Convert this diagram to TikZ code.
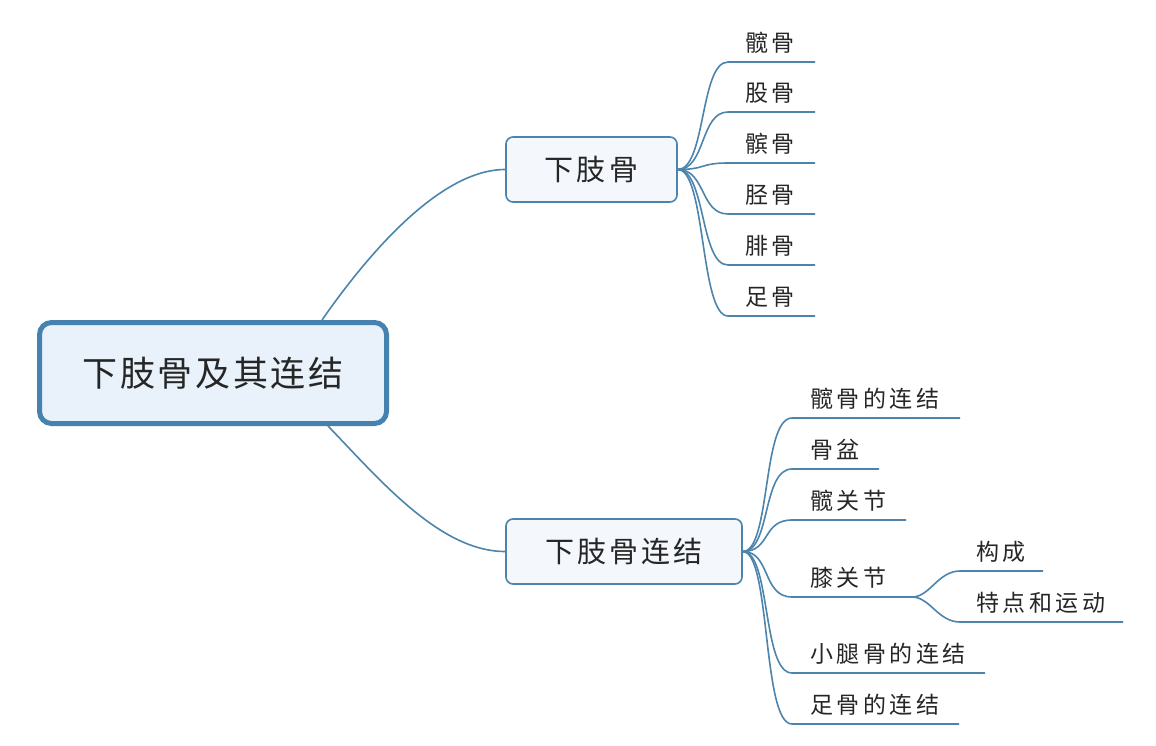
\documentclass[tikz,border=0pt]{standalone}
\usepackage{fontspec}
\usepackage{tikz}
\usetikzlibrary{positioning}

\newfontfamily\rootfont[LetterSpace=7.5]{Noto Sans CJK SC}
\newfontfamily\branchfont[LetterSpace=11]{Noto Sans CJK SC}
\newfontfamily\leaffont[LetterSpace=15]{Noto Sans CJK SC}

\definecolor{rootblue}{RGB}{70,130,176}
\definecolor{lineblue}{RGB}{76,132,172}
\definecolor{rootfill}{RGB}{233,242,251}
\definecolor{branchfill}{RGB}{244,248,252}
\definecolor{textgray}{RGB}{38,38,38}

\begin{document}
\begin{tikzpicture}[x=1pt, y=-1pt,
  root node/.style={draw=rootblue, line width=5pt, fill=rootfill, rounded corners=12pt,
    minimum width=347pt, minimum height=101pt, inner sep=0pt, text=textgray,
    font=\rootfont\fontsize{35}{40}\selectfont},
  branch node/.style={draw=lineblue, line width=1.6pt, fill=branchfill, rounded corners=7pt,
    minimum height=65pt, inner sep=0pt, text=textgray,
    font=\branchfont\fontsize{29}{34}\selectfont},
  leaf node/.style={anchor=west, inner sep=0pt, text=textgray,
    font=\leaffont\fontsize{23}{28}\selectfont},
  link/.style={draw=lineblue, line width=1.6pt}]

\useasboundingbox (0,0) rectangle (1156,746);

% central topic and main branches
\node[root node] (R) at (213,373) {下肢骨及其连结};
\node[branch node, minimum width=171pt] (bones) at (591.5,169.5) {下肢骨};
\node[branch node, minimum width=236pt] (joints) at (624,551.5) {下肢骨连结};

\draw[link] (R.north -| 322,0) .. controls (368,254) and (440,169.5) .. (bones.west);
\draw[link] (R.south -| 328,0) .. controls (380,480) and (440,551.5) .. (joints.west);

% bones
\foreach \name/\txt/\y in {hipbone/髋骨/62, femur/股骨/112, patella/髌骨/163,
    tibia/胫骨/214, fibula/腓骨/265, foot/足骨/316} {
  \node[leaf node] (\name) at (745,\y-19) {\txt};
  \coordinate (\name-s) at (728,\y);
  \coordinate (\name-e) at (815,\y);
  \draw[link] (bones.east) .. controls +(28,0) and +(-28,0) .. (\name-s) -- (\name-e);
}

% joints
\foreach \name/\txt/\y/\len in {hipjoin/髋骨的连结/418/960, pelvis/骨盆/469/879,
    hip/髋关节/520/906, knee/膝关节/597/912, leg/小腿骨的连结/673/985,
    footjoin/足骨的连结/724/959} {
  \node[leaf node] (\name) at (810,\y-19) {\txt};
  \coordinate (\name-s) at (792,\y);
  \coordinate (\name-e) at (\len,\y);
  \draw[link] (joints.east) .. controls +(28,0) and +(-30,0) .. (\name-s) -- (\name-e);
}

% knee joint
\foreach \name/\txt/\y/\len in {parts/构成/571/1043, motion/特点和运动/622/1123} {
  \node[leaf node] (\name) at (976,\y-19) {\txt};
  \coordinate (\name-s) at (960,\y);
  \coordinate (\name-e) at (\len,\y);
  \draw[link] (knee-e) .. controls +(18,0) and +(-22,0) .. (\name-s) -- (\name-e);
}

\end{tikzpicture}
\end{document}
